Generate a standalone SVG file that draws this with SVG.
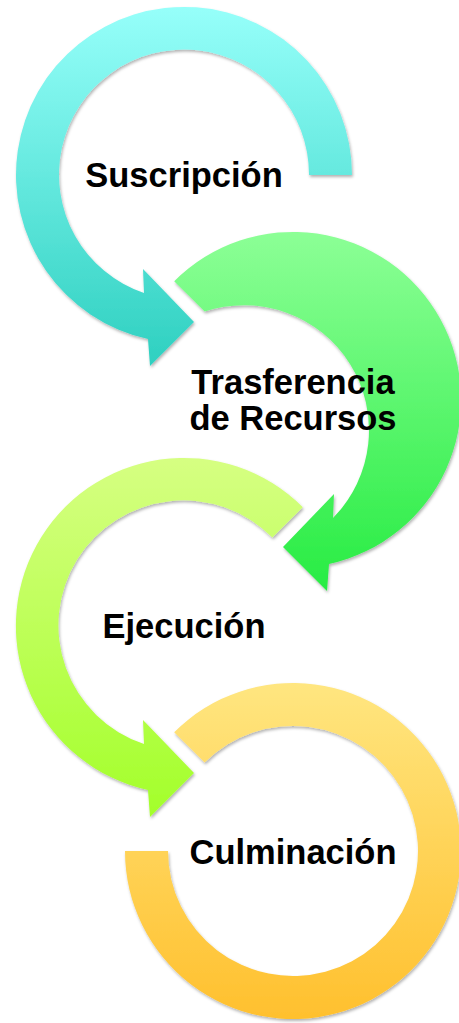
<svg xmlns="http://www.w3.org/2000/svg" width="459" height="1023" viewBox="0 0 459 1023">
<defs>
<linearGradient id="g1" x1="0" y1="0" x2="0" y2="1"><stop offset="0" stop-color="#96FFFA"/><stop offset="1" stop-color="#2ED0C0"/></linearGradient>
<linearGradient id="g2" x1="0" y1="0" x2="0" y2="1"><stop offset="0" stop-color="#8CFF96"/><stop offset="1" stop-color="#27EC43"/></linearGradient>
<linearGradient id="g3" x1="0" y1="0" x2="0" y2="1"><stop offset="0" stop-color="#D6FF82"/><stop offset="1" stop-color="#A3FF2A"/></linearGradient>
<linearGradient id="g4" x1="0" y1="0" x2="0" y2="1"><stop offset="0" stop-color="#FFE680"/><stop offset="1" stop-color="#FFC02E"/></linearGradient>
<filter id="sh" x="-10%" y="-10%" width="120%" height="120%"><feDropShadow dx="1" dy="2" stdDeviation="1.8" flood-color="#000" flood-opacity="0.3"/></filter>
</defs>
<style>
.lbl{font-family:"Liberation Sans",Arial,sans-serif;font-weight:bold;font-size:34.5px;fill:#000;text-anchor:middle}
</style>
<g id="connectors"></g>
<g id="node1">
<path filter="url(#sh)" fill="url(#g1)" d="M 352 175 A 168 168 0 1 0 148 339 L 150 366 L 194 322 L 143 269 L 144 293 A 125 125 0 1 1 309 175 Z"/>
<text class="lbl" x="184" y="187">Suscripción</text>
</g>
<g id="node2">
<path filter="url(#sh)" fill="url(#g2)" d="M 174.2 281.2 A 168 168 0 1 1 329 564 L 327 591 L 283 547 L 334 494 L 333 518 A 125 125 0 0 0 204.6 311.6 Z"/>
<text class="lbl" x="293" y="394">Trasferencia</text>
<text class="lbl" x="293" y="430">de Recursos</text>
</g>
<g id="node3">
<path filter="url(#sh)" fill="url(#g3)" d="M 302.8 507.2 A 168 168 0 1 0 148 790 L 150 817 L 194 773 L 143 720 L 144 744 A 125 125 0 1 1 272.4 537.6 Z"/>
<text class="lbl" x="184" y="638">Ejecución</text>
</g>
<g id="node4">
<path filter="url(#sh)" fill="url(#g4)" d="M 174.2 732.2 A 168 168 0 1 1 125 851 L 168 851 A 125 125 0 1 0 204.6 762.6 Z"/>
<text class="lbl" x="293" y="864">Culminación</text>
</g>
</svg>
